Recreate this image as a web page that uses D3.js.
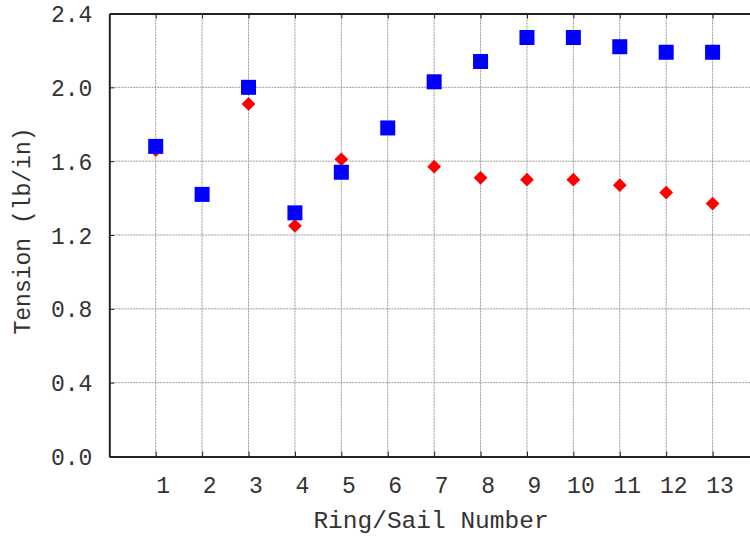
<!DOCTYPE html>
<html><head><meta charset="utf-8">
<script src="https://cdn.jsdelivr.net/npm/d3@7"></script>
<style>body{margin:0;background:#fff}svg{display:block}text{font-family:"Liberation Mono","DejaVu Sans Mono",monospace;fill:#333}</style>
</head><body>
<script>
const rings = [1,2,3,4,5,6,7,8,9,10,11,12,13];
const blueValues = [1.68,1.42,2.00,1.32,1.54,1.78,2.03,2.14,2.27,2.27,2.22,2.19,2.19];
const redValues  = [1.66,1.42,1.91,1.25,1.61,1.78,1.57,1.51,1.50,1.50,1.47,1.43,1.37];
const yTicks = [0,0.4,0.8,1.2,1.6,2.0,2.4];
const xTitle = "Ring/Sail Number";
const yTitle = "Tension (lb/in)";

const W=750,H=537;
const svg=d3.select("body").append("svg").attr("width",W).attr("height",H);
const x=d3.scaleLinear().domain([0,14]).range([109.3,759]);
const y=d3.scaleLinear().domain([0,2.4]).range([456.5,13.5]);

const g=svg.append("g");
// grid
g.selectAll(".vg").data(rings).enter().append("line")
 .attr("x1",d=>x(d)).attr("x2",d=>x(d)).attr("y1",y(0)).attr("y2",y(2.4))
 .attr("stroke","#999").attr("stroke-width",1).attr("stroke-dasharray","2,1");
g.selectAll(".hg").data(yTicks.slice(1,-1)).enter().append("line")
 .attr("x1",x(0)).attr("x2",W).attr("y1",d=>y(d)).attr("y2",d=>y(d))
 .attr("stroke","#999").attr("stroke-width",1).attr("stroke-dasharray","2,1");

// axes
const yAxis=d3.axisLeft(y).tickValues(yTicks).tickFormat(d3.format(".1f")).tickSizeInner(-5).tickSizeOuter(0).tickPadding(17);
const ya=svg.append("g").attr("transform",`translate(${x(0)},0)`).call(yAxis);
ya.select(".domain").attr("stroke","#222").attr("stroke-width",2);
ya.selectAll(".tick line").attr("stroke","#222");
ya.selectAll("text").style("font-size","23px").attr("font-family",null).attr("fill","#333").attr("dy","0.35em");

const xAxis=d3.axisBottom(x).tickValues(rings).tickFormat(d3.format("d")).tickSizeInner(-5).tickSizeOuter(0).tickPadding(20);
const xa=svg.append("g").attr("transform",`translate(0,${y(0)})`).call(xAxis);
xa.select(".domain").attr("stroke","#222").attr("stroke-width",1.8);
xa.selectAll(".tick line").attr("stroke","#222");
xa.selectAll("text").style("font-size","23px").attr("font-family",null).attr("fill","#333").attr("dx","7");

// top border with ticks
const xt=d3.axisTop(x).tickValues(rings).tickFormat("").tickSizeInner(-5).tickSizeOuter(0);
const ta=svg.append("g").attr("transform",`translate(0,${y(2.4)})`).call(xt);
ta.select(".domain").attr("stroke","#222").attr("stroke-width",2.2);
ta.selectAll(".tick line").attr("stroke","#222");

// red diamonds
svg.append("g").selectAll("path").data(rings).enter().append("path")
 .attr("transform",(d,i)=>`translate(${x(d)},${y(redValues[i])}) rotate(45)`)
 .attr("d",d3.symbol(d3.symbolSquare,95)).attr("fill","#ff0000");
// blue squares
svg.append("g").selectAll("rect").data(rings).enter().append("rect")
 .attr("x",d=>x(d)-7.5).attr("y",(d,i)=>y(blueValues[i])-7.5)
 .attr("width",15).attr("height",15).attr("fill","#0000ff");

// titles
svg.append("text").attr("x",431).attr("y",528).attr("text-anchor","middle").style("font-size","24.5px").text(xTitle);
svg.append("text").attr("transform","translate(30,231) rotate(-90)").attr("text-anchor","middle").style("font-size","23px").text(yTitle);
</script>
</body></html>
